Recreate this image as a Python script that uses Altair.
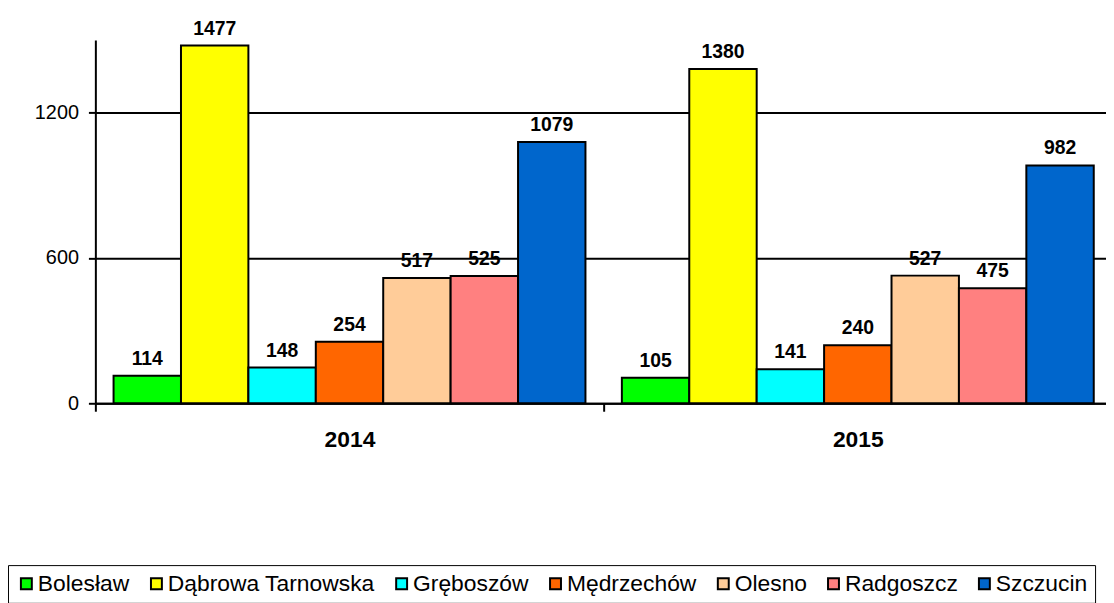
import altair as alt
import pandas as pd

years = ["2014", "2015"]
gminy = ["Bolesław", "Dąbrowa Tarnowska", "Gręboszów", "Mędrzechów", "Olesno", "Radgoszcz", "Szczucin"]
values_2014 = [114, 1477, 148, 254, 517, 525, 1079]
values_2015 = [105, 1380, 141, 240, 527, 475, 982]
colors = ["#00FF00", "#FFFF00", "#00FFFF", "#FF6600", "#FFCC99", "#FF8080", "#0066CC"]
y_ticks = [0, 600, 1200]

rows = []
for yr, vals in zip(years, [values_2014, values_2015]):
    for g, v in zip(gminy, vals):
        rows.append({"rok": yr, "gmina": g, "wartosc": v})
df = pd.DataFrame(rows)

FONT = "Liberation Sans"

x_scale = alt.Scale(paddingInner=0, paddingOuter=0, range=[0, 1024])
x = alt.X(
    "rok:N", sort=years, scale=x_scale,
    axis=alt.Axis(title=None, labelAngle=0, tickBand="extent", labelFontWeight="bold",
                  labelFontSize=23, labelFont=FONT, labelColor="black", tickSize=8,
                  tickWidth=2, tickColor="black", domainColor="black", domainWidth=2,
                  labelPadding=36, labelBaseline="alphabetic"),
)
xo = alt.XOffset("gmina:N", sort=gminy, scale=alt.Scale(paddingInner=0, paddingOuter=0.27))
y = alt.Y(
    "wartosc:Q",
    scale=alt.Scale(domain=[0, 1500], nice=False),
    axis=alt.Axis(title=None, values=y_ticks, format="d", grid=True, gridColor="black",
                  gridWidth=2, labelFontSize=20, labelFont=FONT, labelColor="black",
                  tickSize=7, tickWidth=2, tickColor="black", domainColor="black",
                  domainWidth=2, labelPadding=10),
)
color = alt.Color(
    "gmina:N", sort=gminy,
    scale=alt.Scale(domain=gminy, range=colors),
    legend=alt.Legend(title=None, orient="none", legendX=-88, legendY=529,
                      direction="horizontal", columns=7, strokeColor="black",
                      padding=7, labelFontSize=23, labelFont=FONT, labelColor="black",
                      symbolType="square", symbolSize=121, symbolStrokeColor="black",
                      symbolStrokeWidth=2, symbolOpacity=1, columnPadding=15,
                      labelOffset=0, labelLimit=400),
)

bars = alt.Chart(df).mark_bar(stroke="black", strokeWidth=2, opacity=1).encode(
    x=x, xOffset=xo, y=y, color=color
)
labels = alt.Chart(df).mark_text(dy=-11, fontWeight="bold", fontSize=19.5, font=FONT,
                                  color="black", baseline="alphabetic").encode(
    x=alt.X("rok:N", sort=years), xOffset=alt.XOffset("gmina:N", sort=gminy),
    y=alt.Y("wartosc:Q"), text="wartosc:Q"
)

chart = alt.layer(bars, labels).properties(
    width=1018, height=366,
    autosize=alt.AutoSizeParams(type="none"),
    padding={"left": 88, "top": 30, "right": 0, "bottom": 199},
).configure_view(stroke=None)

chart.save("out.html", embed_options={"renderer": "svg", "actions": False})
